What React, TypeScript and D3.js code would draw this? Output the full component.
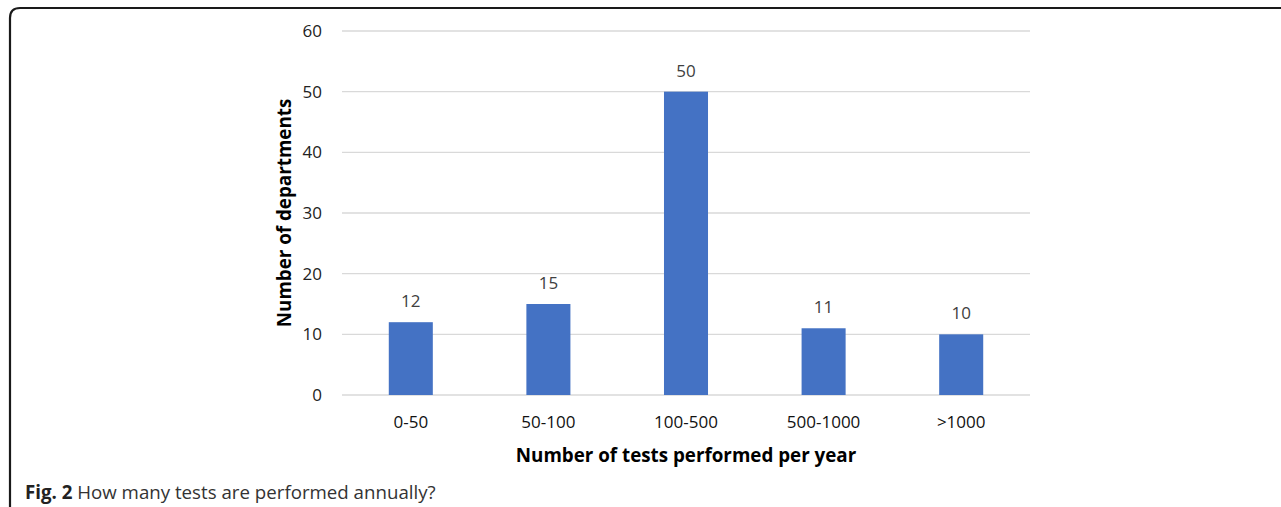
import React from "react";
import * as d3 from "d3";

const categories = ["0-50", "50-100", "100-500", "500-1000", ">1000"];
const values = [12, 15, 50, 11, 10];
const yTicks = [0, 10, 20, 30, 40, 50, 60];

const W = 1281;
const H = 507;
const plot = { left: 342, right: 1030, top: 31, bottom: 395 };

export default function App() {
  const x = d3.scaleBand<string>().domain(categories).range([plot.left, plot.right]).padding(0);
  const y = d3.scaleLinear().domain([0, 60]).range([plot.bottom, plot.top]);
  const barW = x.bandwidth() * 0.32;
  const font = "'Open Sans', 'Noto Sans', sans-serif";
  return (
    <svg width={W} height={H} style={{ position: "fixed", left: 0, top: 0, background: "#fff" }} fontFamily={font}>
      <path d={`M 10 ${H} V 18 Q 10 8 20 8 H ${W}`} fill="none" stroke="#1a1a1a" strokeWidth={2.2} />
      {yTicks.map((t) => (
        <g key={t}>
          <line x1={plot.left} x2={plot.right} y1={y(t)} y2={y(t)} stroke="#d9d9d9" strokeWidth={1.3} />
          <text x={322} y={y(t)} dy="0.35em" textAnchor="end" fontSize={17} fill="#222">{t}</text>
        </g>
      ))}
      {categories.map((c, i) => {
        const cx = (x(c) as number) + x.bandwidth() / 2;
        return (
          <g key={c}>
            <rect x={cx - barW / 2} y={y(values[i])} width={barW} height={y(0) - y(values[i])} fill="#4472C4" />
            <text x={cx} y={y(values[i]) - 21} dy="0.35em" textAnchor="middle" fontSize={17} fill="#404040">{values[i]}</text>
            <text x={cx} y={422} dy="0.35em" textAnchor="middle" fontSize={17} fill="#111">{c}</text>
          </g>
        );
      })}
      <text x={(plot.left + plot.right) / 2} y={455} dy="0.35em" textAnchor="middle" fontSize={18.8} fontWeight="bold" fill="#000">
        Number of tests performed per year
      </text>
      <text transform={`translate(284, ${(plot.top + plot.bottom) / 2}) rotate(-90)`} dy="0.35em" textAnchor="middle" fontSize={18.8} fontWeight="bold" fill="#000">
        Number of departments
      </text>
      <text x={25} y={499} fontSize={18.7} fill="#333">
        <tspan fontWeight="bold" fill="#222">Fig. 2</tspan> How many tests are performed annually?
      </text>
    </svg>
  );
}
